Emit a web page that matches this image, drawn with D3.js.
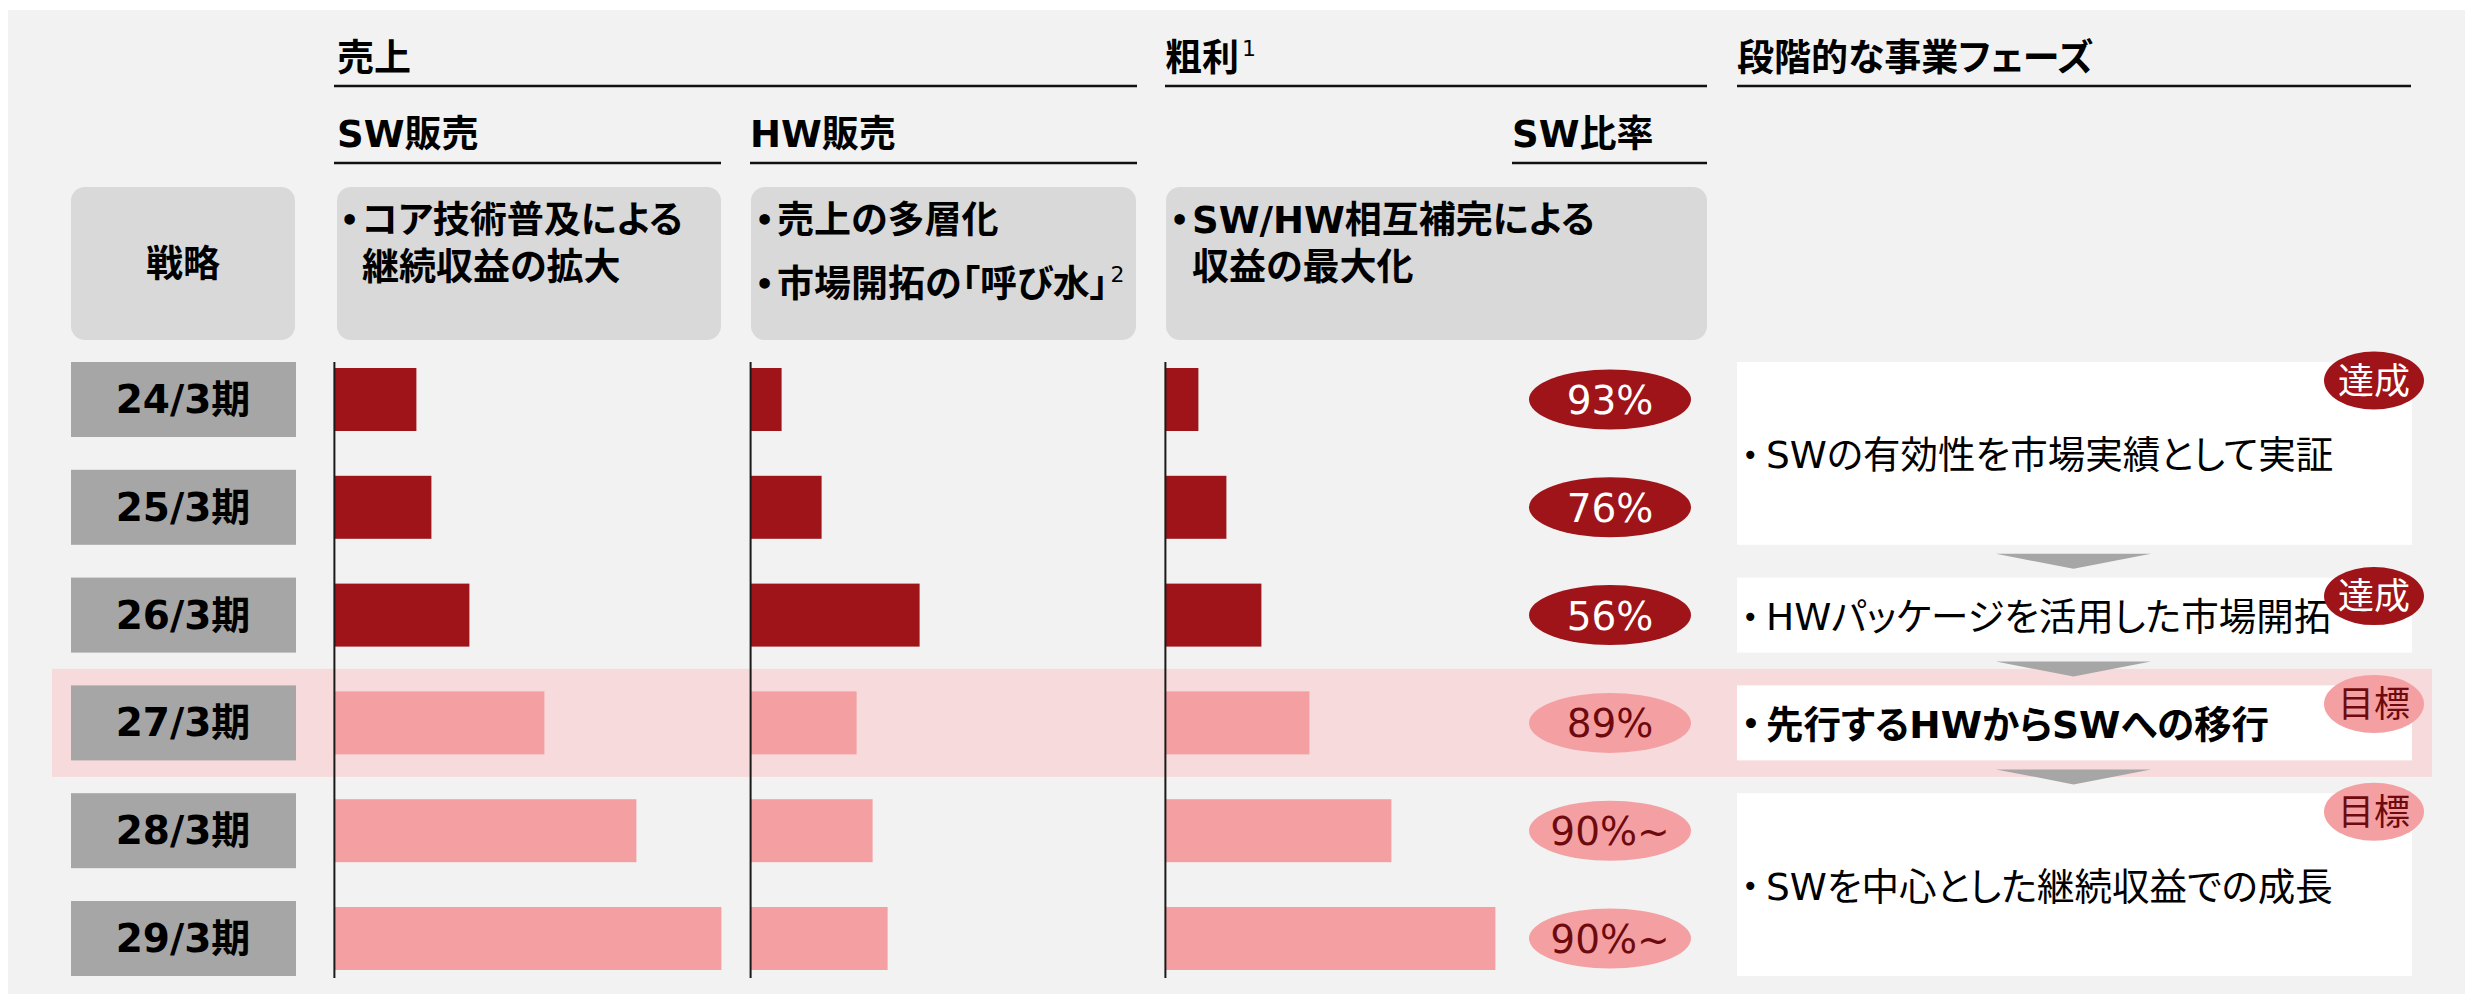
<!DOCTYPE html>
<html><head><meta charset="utf-8">
<script src="https://cdn.jsdelivr.net/npm/d3@7"></script>
<style>
html,body{margin:0;padding:0;background:#fff;}
svg text{font-family:"DejaVu Sans","Noto Sans CJK JP",sans-serif;font-feature-settings:"palt" 1;}
</style></head>
<body>
<svg id="chart" width="2465" height="996"></svg>
<script>
// ---------- data ----------
const periods = ["24/3期","25/3期","26/3期","27/3期","28/3期","29/3期"];
const periodStatus = ["actual","actual","actual","target","target","target"];
const swSales = [8.2, 9.7, 13.5, 21.0, 30.2, 38.7];
const hwSales = [3.1, 7.1, 16.9, 10.6, 12.2, 13.7];
const grossProfit = [3.3, 6.1, 9.6, 14.4, 22.6, 33.0];
const swRatio = ["93%","76%","56%","89%","90%~","90%~"];
const highlightPeriod = "27/3期";
const phaseTexts = ["SWの有効性を市場実績として実証","HWパッケージを活用した市場開拓","先行するHWからSWへの移行","SWを中心とした継続収益での成長"];
const phaseFirst = ["24/3期","26/3期","27/3期","28/3期"];
const phaseLast  = ["25/3期","26/3期","27/3期","29/3期"];
const phaseBadges = ["達成","達成","目標","目標"];
const strategyLabel = "戦略";
const strategySW = [["コア技術普及による","継続収益の拡大"]];
const strategyHW = [["売上の多層化"],["市場開拓の「呼び水」"]];
const strategyGP = [["SW/HW相互補完による","収益の最大化"]];

// ---------- styles ----------
const DARK = "#9f1419", PINK = "#f4a0a2", BAND = "#f7dadb", MAROON = "#6e0a0e";

const svg = d3.select("#chart");
svg.append("rect").attr("x",8).attr("y",10).attr("width",2457).attr("height",984).attr("fill","#f2f2f2");

const y = d3.scalePoint().domain(periods).range([399.5, 938.5]);
const x = d3.scaleLinear().domain([0, 40]).range([0, 400]);
const rowH = 75, barH = 63;

// highlight band
svg.append("rect").attr("x",52).attr("y",y(highlightPeriod)-54).attr("width",2380).attr("height",108).attr("fill",BAND);

// ---------- headers ----------
function hdr(txt, x0, base, sup){
  const t = svg.append("text").attr("x",x0).attr("y",base).attr("font-size",37).attr("font-weight","bold").attr("fill","#000").text(txt);
  if(sup){ t.append("tspan").attr("font-size",22).attr("font-weight","normal").attr("dy",-15).attr("dx",3).text(sup); }
  return t;
}
function uline(x1,x2,yy){ svg.append("line").attr("x1",x1).attr("x2",x2).attr("y1",yy).attr("y2",yy).attr("stroke","#111").attr("stroke-width",2.5); }
hdr("売上",337,71); uline(334,1137,86);
hdr("粗利",1165,71,"1"); uline(1165,1707,86);
hdr("段階的な事業フェーズ",1737,71); uline(1737,2411,86);
hdr("SW販売",337,147); uline(334,721,163);
hdr("HW販売",750,147); uline(750,1137,163);
hdr("SW比率",1512,147); uline(1512,1707,163);

// ---------- strategy row ----------
function sbox(x0,x1){ svg.append("rect").attr("x",x0).attr("y",187).attr("width",x1-x0).attr("height",153).attr("rx",14).attr("fill","#d9d9d9"); }
sbox(71,295); sbox(337,721); sbox(751,1136); sbox(1166,1707);
svg.append("text").attr("x",183).attr("y",264).attr("text-anchor","middle").attr("dominant-baseline","central")
  .attr("font-size",37).attr("font-weight","bold").text(strategyLabel);
function stext(paras, bx, firstBase, lineGap, paraGap, sup){
  let yy = firstBase;
  paras.forEach((lines,pi)=>{
    svg.append("text").attr("x",bx).attr("y",yy-2).attr("font-size",30).attr("font-weight","bold").text("•");
    lines.forEach((ln,li)=>{
      const t = svg.append("text").attr("x",bx+22).attr("y",yy).attr("font-size",37).attr("font-weight","bold").text(ln);
      if(sup && pi===paras.length-1 && li===lines.length-1){ t.append("tspan").attr("font-size",22).attr("font-weight","normal").attr("dy",-15).attr("dx",2).text(sup); }
      yy += lineGap;
    });
    yy += paraGap - lineGap;
  });
}
stext(strategySW, 340, 233, 47, 47);
stext(strategyHW, 755, 233, 47, 64, "2");
stext(strategyGP, 1170, 233, 47, 47);

// ---------- period labels ----------
const rows = svg.append("g");
rows.selectAll("rect.lab").data(periods).join("rect").attr("class","lab")
  .attr("x",71).attr("y",d=>y(d)-rowH/2).attr("width",225).attr("height",rowH).attr("fill","#a6a6a6");
rows.selectAll("text.lab").data(periods).join("text").attr("class","lab")
  .attr("x",183).attr("y",d=>y(d)).attr("text-anchor","middle").attr("dominant-baseline","central")
  .attr("font-size",39).attr("font-weight","bold").attr("fill","#000").text(d=>d);

// ---------- bar columns ----------
const cols = [{x0:334.4, vals:swSales},{x0:750.6, vals:hwSales},{x0:1165.4, vals:grossProfit}];
cols.forEach(c=>{
  const g = svg.append("g").attr("transform",`translate(${c.x0},0)`);
  g.selectAll("rect").data(periods).join("rect")
    .attr("x",0).attr("y",d=>y(d)-barH/2).attr("height",barH)
    .attr("width",(d,i)=>x(c.vals[i]))
    .attr("fill",(d,i)=>periodStatus[i]==="actual"?DARK:PINK);
  g.append("line").attr("x1",0).attr("x2",0).attr("y1",362).attr("y2",978).attr("stroke","#1a1a1a").attr("stroke-width",2);
});

// ---------- SW ratio ellipses ----------
const eg = svg.append("g");
eg.selectAll("ellipse").data(periods).join("ellipse")
  .attr("cx",1610).attr("cy",d=>y(d)).attr("rx",81).attr("ry",30)
  .attr("fill",(d,i)=>periodStatus[i]==="actual"?DARK:PINK);
eg.selectAll("text").data(periods).join("text")
  .attr("x",1610).attr("y",d=>y(d)+1).attr("text-anchor","middle").attr("dominant-baseline","central")
  .attr("font-size",39).attr("fill",(d,i)=>periodStatus[i]==="actual"?"#fff":MAROON)
  .text((d,i)=>swRatio[i]);

// ---------- phases ----------
const pg = svg.append("g");
phaseTexts.forEach((t,i)=>{
  const top = y(phaseFirst[i]) - rowH/2, bot = y(phaseLast[i]) + rowH/2;
  pg.append("rect").attr("x",1737).attr("y",top).attr("width",675).attr("height",bot-top).attr("fill","#fff");
  const bold = phaseFirst[i]===highlightPeriod;
  pg.append("text").attr("x",1742).attr("y",(top+bot)/2+2).attr("dominant-baseline","central")
    .attr("font-size",28).attr("font-weight",bold?"bold":"normal").text("•");
  pg.append("text").attr("x",1766).attr("y",(top+bot)/2+2).attr("dominant-baseline","central")
    .attr("font-size",37.5).attr("font-weight",bold?"bold":"normal").text(t);
  const ach = phaseBadges[i]==="達成";
  pg.append("ellipse").attr("cx",2374).attr("cy",top+18.5).attr("rx",50).attr("ry",29).attr("fill",ach?DARK:PINK);
  pg.append("text").attr("x",2374).attr("y",top+19).attr("text-anchor","middle").attr("dominant-baseline","central")
    .attr("font-size",36).attr("fill",ach?"#fff":MAROON).text(phaseBadges[i]);
  if(i>0){
    const pb = y(phaseLast[i-1]) + rowH/2;
    pg.append("path").attr("d",`M1996,${pb+9} L2151,${pb+9} L2073.5,${pb+24} Z`).attr("fill","#a6a6a6");
  }
});
</script>
</body></html>
